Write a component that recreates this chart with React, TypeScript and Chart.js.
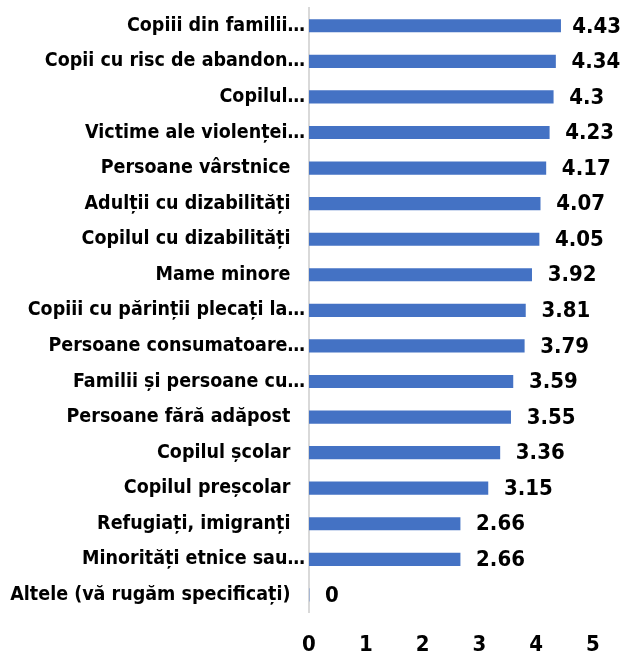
import React, { useEffect, useRef } from "react";
import { Chart, registerables } from "chart.js";

Chart.register(...registerables);

const categories: string[] = [
  "Copiii din familii…",
  "Copii cu risc de abandon…",
  "Copilul…",
  "Victime ale violenței…",
  "Persoane vârstnice\u2002\u2004",
  "Adulții cu dizabilități\u2002\u2004",
  "Copilul cu dizabilități\u2002\u2004",
  "Mame minore\u2002\u2004",
  "Copiii cu părinții plecați la…",
  "Persoane consumatoare…",
  "Familii și persoane cu…",
  "Persoane fără adăpost\u2002\u2004",
  "Copilul școlar\u2002\u2004",
  "Copilul preșcolar\u2002\u2004",
  "Refugiați, imigranți\u2002\u2004",
  "Minorități etnice sau…",
  "Altele (vă rugăm specificați)\u2002\u2004",
];

const values: number[] = [4.43, 4.34, 4.3, 4.23, 4.17, 4.07, 4.05, 3.92, 3.81, 3.79, 3.59, 3.55, 3.36, 3.15, 2.66, 2.66, 0];

const xTicks: number[] = [0, 1, 2, 3, 4, 5];

const FONT = "'DejaVu Sans Condensed', 'DejaVu Sans', sans-serif";

const valueLabels = {
  id: "valueLabels",
  afterDatasetsDraw(chart: any) {
    const ctx = chart.ctx;
    const meta = chart.getDatasetMeta(0);
    ctx.save();
    ctx.font = `bold 22px ${FONT}`;
    ctx.fillStyle = "#000000";
    ctx.textAlign = "left";
    ctx.textBaseline = "middle";
    meta.data.forEach((bar: any, i: number) => {
      const v = String(chart.data.datasets[0].data[i]);
      const w = ctx.measureText(v).width;
      const x = Math.min(bar.x + 16, chart.width - 6 - w);
      ctx.fillText(v, x, bar.y + 1);
    });
    ctx.restore();
  },
};

export default function App() {
  const ref = useRef<HTMLCanvasElement | null>(null);
  useEffect(() => {
    if (!ref.current) return;
    const chart = new Chart(ref.current, {
      type: "bar",
      data: {
        labels: categories,
        datasets: [
          {
            data: values,
            backgroundColor: "#4472C4",
            borderWidth: 0,
            barThickness: 12.5,
          },
        ],
      },
      options: {
        indexAxis: "y",
        responsive: false,
        animation: false,
        layout: { padding: { top: 8, right: 34, bottom: 0, left: 0 } },
        plugins: {
          legend: { display: false },
          tooltip: { enabled: false },
        },
        scales: {
          x: {
            min: 0,
            max: 5,
            afterBuildTicks: (scale: any) => {
              scale.ticks = xTicks.map((v) => ({ value: v }));
            },
            grid: { display: false, drawTicks: false },
            border: { display: false },
            ticks: {
              padding: 19,
              color: "#000000",
              font: { family: FONT, size: 22, weight: "bold" },
            },
            afterFit: (scale: any) => {
              scale.height = 41.3;
            },
          },
          y: {
            grid: { display: false, drawTicks: false },
            border: { display: true, color: "#D9D9D9", width: 2 },
            ticks: {
              padding: 4,
              color: "#000000",
              autoSkip: false,
              font: { family: FONT, size: 19.5, weight: "bold" },
            },
            afterFit: (scale: any) => {
              scale.width = 309;
              scale.paddingTop = 0;
              scale.paddingBottom = 0;
            },
          },
        },
      },
      plugins: [valueLabels],
    });
    return () => chart.destroy();
  }, []);
  return (
    <div style={{ position: "fixed", left: 0, top: 0, width: 627, height: 654, background: "#fff" }}>
      <canvas ref={ref} width={627} height={654} />
    </div>
  );
}
